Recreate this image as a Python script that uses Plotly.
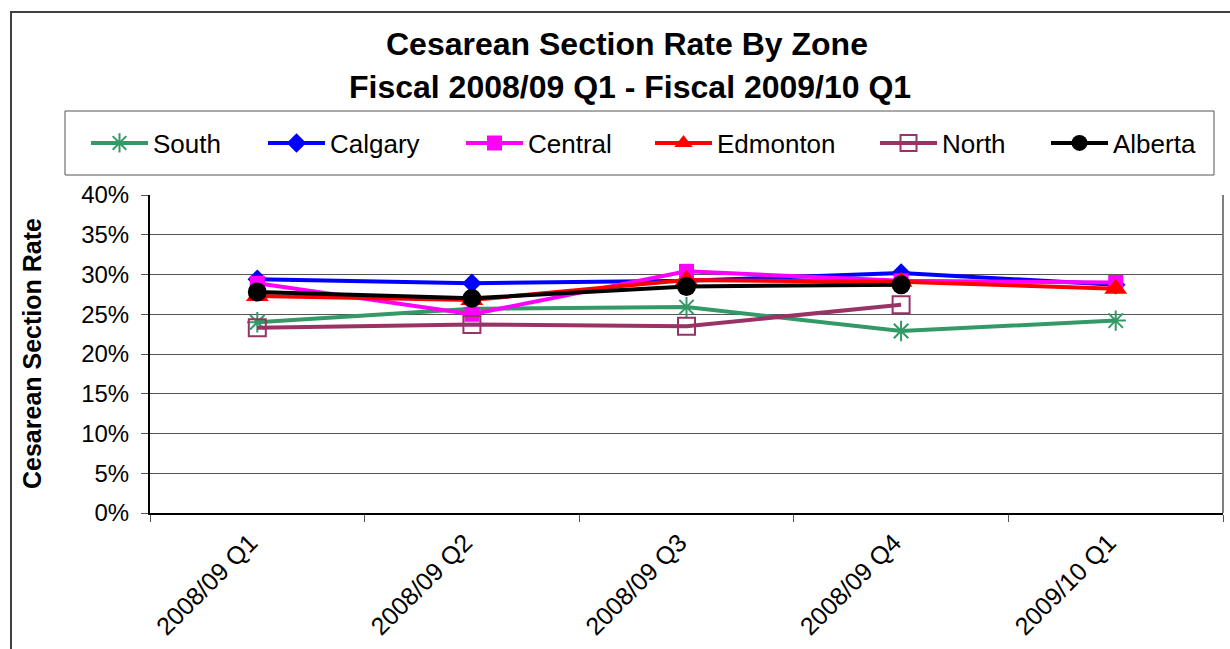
import plotly.graph_objects as go

# Quarterly caesarean section rates (%) by zone
quarters = ["2008/09 Q1", "2008/09 Q2", "2008/09 Q3", "2008/09 Q4", "2009/10 Q1"]
south = [24.0, 25.7, 25.9, 22.9, 24.2]
calgary = [29.4, 28.9, 29.2, 30.2, 28.7]
central = [28.9, 25.0, 30.4, 29.2, 29.0]
edmonton = [27.3, 26.8, 29.3, 29.1, 28.2]
north = [23.3, 23.7, 23.5, 26.2, None]
alberta = [27.8, 27.0, 28.5, 28.7, None]

FONT = "Liberation Sans, Arial, sans-serif"

series = [
    ("South", south, "#339966", dict(symbol="asterisk-open", size=17,
                                      line=dict(color="#339966", width=2))),
    ("Calgary", calgary, "#0000FF", dict(symbol="diamond", size=15, color="#0000FF")),
    ("Central", central, "#FF00FF", dict(symbol="square", size=15, color="#FF00FF")),
    ("Edmonton", edmonton, "#FF0000", dict(symbol="triangle-up", size=20, color="#FF0000")),
    ("North", north, "#993366", dict(symbol="square-open", size=17, color="#993366",
                                      line=dict(color="#993366", width=2))),
    ("Alberta", alberta, "#000000", dict(symbol="circle", size=19, color="#000000")),
]

W, H = 1230, 649
ML, MR, MT, MB = 150, 7, 195, 136
PW, PH = W - ML - MR, H - MT - MB


def px(x):
    return (x - ML) / PW


def py(y):
    return 1 - (y - MT) / PH


# left edge (px) of each legend entry inside the legend frame
legend_left = [86, 263, 461, 650, 875, 1046]

fig = go.Figure()
legend_layout = {}
for i, ((name, vals, color, marker), lx) in enumerate(zip(series, legend_left)):
    key = "legend" if i == 0 else f"legend{i + 1}"
    fig.add_trace(go.Scatter(
        x=quarters,
        y=[v / 100 if v is not None else None for v in vals],
        name=name,
        mode="lines+markers",
        line=dict(color=color, width=4),
        marker=marker,
        legend=key,
    ))
    legend_layout[key] = dict(
        orientation="h", x=px(lx), y=py(143), xanchor="left", yanchor="middle",
        font=dict(family=FONT, size=26, color="black"),
        bgcolor="rgba(0,0,0,0)", borderwidth=0, itemwidth=57,
    )

shapes = [
    # outer chart frame
    dict(type="rect", xref="paper", yref="paper",
         x0=px(11), x1=px(1245), y0=py(12), y1=py(665),
         line=dict(color="#404040", width=2), layer="below"),
    # legend frame
    dict(type="rect", xref="paper", yref="paper",
         x0=px(65), x1=px(1214), y0=py(111), y1=py(175),
         line=dict(color="#555555", width=1)),
    # right edge of plot area
    dict(type="line", xref="paper", yref="paper",
         x0=1, x1=1, y0=0, y1=1, line=dict(color="#808080", width=2)),
]

annotations = [
    dict(text="<b>Cesarean Section Rate By Zone</b>", xref="paper", yref="paper",
         x=px(627), y=py(44), xanchor="center", yanchor="middle", showarrow=False,
         font=dict(family=FONT, size=32, color="black")),
    dict(text="<b>Fiscal 2008/09 Q1 - Fiscal 2009/10 Q1</b>", xref="paper", yref="paper",
         x=px(630), y=py(87), xanchor="center", yanchor="middle", showarrow=False,
         font=dict(family=FONT, size=32, color="black")),
    dict(text="<b>Cesarean Section Rate</b>", xref="paper", yref="paper",
         x=px(32), y=py(354), xanchor="center", yanchor="middle", showarrow=False,
         textangle=-90, font=dict(family=FONT, size=25, color="black")),
]

fig.update_layout(
    width=W, height=H,
    margin=dict(l=ML, r=MR, t=MT, b=MB),
    paper_bgcolor="white", plot_bgcolor="white",
    font=dict(family=FONT, color="black"),
    shapes=shapes,
    annotations=annotations,
    showlegend=True,
    **legend_layout,
)

fig.update_xaxes(
    type="category", range=[-0.5, 4.5],
    showline=True, linecolor="black", linewidth=2,
    ticks="outside", tickson="boundaries", ticklen=7, tickcolor="#555555", tickwidth=1,
    tickangle=-45, tickfont=dict(family=FONT, size=25, color="black"),
    ticklabelstandoff=3, ticklabelshift=-7,
    showgrid=False, zeroline=False,
)
fig.update_yaxes(
    range=[0, 0.40], dtick=0.05, tickformat=".0%",
    showline=True, linecolor="black", linewidth=2,
    ticks="outside", ticklen=7, tickcolor="#555555", tickwidth=1,
    tickfont=dict(family=FONT, size=24, color="black"),
    ticklabelstandoff=7,
    showgrid=True, gridcolor="#555555", gridwidth=1, zeroline=False,
)

fig.write_html("out.html")
